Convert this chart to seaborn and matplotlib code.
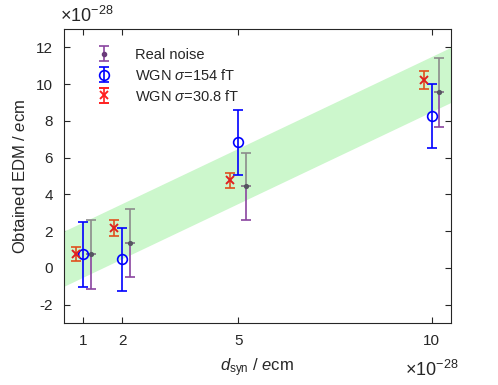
import numpy as np
import pandas as pd
import matplotlib
matplotlib.use("Agg")
import matplotlib.pyplot as plt
import seaborn as sns

# values in units of 1e-28 e cm
d_syn = [1, 2, 5, 10]
offset = 0.2

real_y = [0.73, 1.36, 4.44, 9.56]
real_err = [1.9, 1.85, 1.82, 1.88]

wgn154_y = [0.73, 0.47, 6.82, 8.25]
wgn154_err = [1.75, 1.72, 1.77, 1.75]

wgn30_y = [0.76, 2.18, 4.76, 10.22]
wgn30_err = [0.37, 0.45, 0.39, 0.5]

band_x = [0.5, 10.5]
band_lo = [-1.0, 9.0]
band_hi = [2.0, 12.0]

xticks = [1, 2, 5, 10]
yticks = [-2, 0, 2, 4, 6, 8, 10, 12]

sns.set_theme(style="white")
plt.rcParams['font.family'] = ['Liberation Sans', 'DejaVu Sans']
plt.rcParams['mathtext.fontset'] = 'custom'
plt.rcParams['mathtext.rm'] = 'Liberation Sans'
plt.rcParams['mathtext.it'] = 'Liberation Sans:italic'

fig = plt.figure(figsize=(4.98, 3.85), dpi=100)
ax = fig.add_axes([0.1285, 0.161, 0.777, 0.764])

ax.fill_between(band_x, band_lo, band_hi, color='#ccf7cc', linewidth=0, zorder=1)

df = pd.DataFrame({"d": d_syn, "real": real_y, "re": real_err,
                   "w154": wgn154_y, "e154": wgn154_err,
                   "w30": wgn30_y, "e30": wgn30_err})
xr = df["d"] + offset
xb = df["d"]
xo = df["d"] - offset
cs = 3.6

# Real noise: lower half purple, upper half gray
ax.errorbar(xr, df["real"], yerr=[df["re"], np.zeros(len(df))], fmt='none',
            ecolor='#8a44a0', elinewidth=1.2, capsize=cs, capthick=1.2, zorder=3)
ax.errorbar(xr, df["real"], yerr=[np.zeros(len(df)), df["re"]], fmt='none',
            ecolor='#8c8c8c', elinewidth=1.2, capsize=cs, capthick=1.2, zorder=3)
sns.scatterplot(x=xr, y=df["real"], ax=ax, color='#555560', s=14, linewidth=0, zorder=4)

# WGN 154 fT
ax.errorbar(xb, df["w154"], yerr=df["e154"], fmt='o', mfc='none', mec='blue', mew=1.2,
            ms=7, ecolor='blue', elinewidth=1.2, capsize=cs, capthick=1.2, zorder=5)

# WGN 30.8 fT
ax.errorbar(xo, df["w30"], yerr=df["e30"], fmt='none',
            ecolor='#e0501e', elinewidth=1.2, capsize=cs, capthick=1.2, zorder=6)
ax.plot(xo, df["w30"], 'x', color='#e02020', ms=6, mew=1.4, zorder=7)

# legend proxies
h1 = ax.errorbar([np.nan], [np.nan], yerr=[1], fmt='.', color='#8a44a0', mfc='#6a3a7a',
                 mec='#6a3a7a', ms=6, elinewidth=1.2, capsize=cs, capthick=1.2)
h2 = ax.errorbar([np.nan], [np.nan], yerr=[1], fmt='o', mfc='none', mec='blue', mew=1.2,
                 ms=7, ecolor='blue', elinewidth=1.2, capsize=cs, capthick=1.2)
h3 = ax.errorbar([np.nan], [np.nan], yerr=[1], fmt='x', color='#ff2020', mew=1.4,
                 ms=6, elinewidth=1.2, capsize=cs, capthick=1.2)
leg = ax.legend([h1, h2, h3], ['Real noise', r'WGN $\mathit{\sigma}$=154 fT',
                               r'WGN $\mathit{\sigma}$=30.8 fT'],
                loc='upper left', bbox_to_anchor=(0.04, 0.98), frameon=False,
                fontsize=10.5, handlelength=1.6, handletextpad=1.3, labelspacing=0.4)

ax.set_xlim(0.5, 10.5)
ax.set_ylim(-3, 13)
ax.set_xticks(xticks)
ax.set_xticklabels([str(t) for t in xticks])
ax.set_yticks(yticks)
ax.set_yticklabels([str(t) for t in yticks])
ax.tick_params(direction='in', length=4, width=0.8, top=True, right=True,
               bottom=True, left=True, labelsize=11, colors='#262626', pad=8)
for s in ax.spines.values():
    s.set_visible(True)
    s.set_color('#262626')
    s.set_linewidth(0.8)

ax.set_ylabel(r'Obtained EDM / $e$cm', fontsize=12, color='#262626', labelpad=6)
ax.set_xlabel(r'$d_{\mathrm{syn}}$ / $e$cm', fontsize=12, color='#262626', labelpad=6)

ax.text(-0.01, 1.01, r'$\times10^{-28}$', transform=ax.transAxes, fontsize=13,
        ha='left', va='bottom', color='#262626')
ax.text(0.95, -0.125, r'$\times10^{-28}$', transform=ax.transAxes, fontsize=13,
        ha='center', va='top', color='#262626')

fig.savefig('out.png', dpi=100)
